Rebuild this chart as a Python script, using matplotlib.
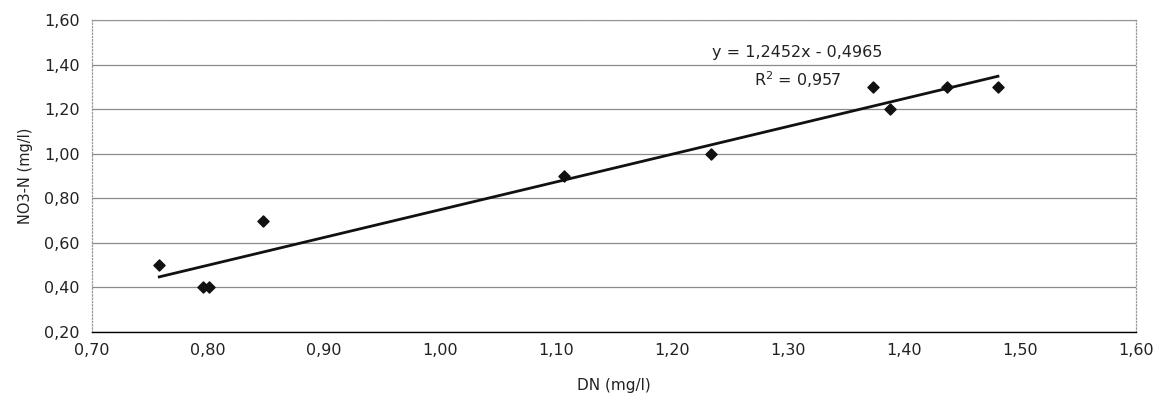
import matplotlib
matplotlib.use("Agg")
import matplotlib.pyplot as plt
import numpy as np
from matplotlib.ticker import FuncFormatter, MultipleLocator

dn = [0.758, 0.796, 0.801, 0.847, 1.107, 1.234, 1.373, 1.388, 1.437, 1.481]
no3n = [0.50, 0.40, 0.40, 0.70, 0.90, 1.00, 1.30, 1.20, 1.30, 1.30]
slope = 1.2452
intercept = -0.4965
eq_text = "y = 1,2452x - 0,4965"
r2_text = "0,957"

plt.rcParams['font.family'] = ['DejaVu Sans']

fig = plt.figure(figsize=(11.61, 4.01), dpi=100)
W, H = 1161, 401
ax = fig.add_axes([92 / W, 1 - 332 / H, (1136 - 92) / W, (332 - 20) / H])

ax.set_xlim(0.70, 1.60)
ax.set_ylim(0.20, 1.60)
ax.xaxis.set_major_locator(MultipleLocator(0.10))
ax.yaxis.set_major_locator(MultipleLocator(0.20))
fmt = FuncFormatter(lambda v, p: f"{v:.2f}".replace('.', ','))
ax.xaxis.set_major_formatter(fmt)
ax.yaxis.set_major_formatter(fmt)

ax.yaxis.grid(True, color='#8a8a8a', linewidth=0.9)
ax.set_axisbelow(True)
for s in ['top', 'right', 'left']:
    ax.spines[s].set_color('#999999')
    ax.spines[s].set_linestyle(':')
    ax.spines[s].set_linewidth(0.9)
ax.spines['bottom'].set_color('black')
ax.spines['bottom'].set_linewidth(1.0)

ax.tick_params(axis='both', length=0, labelsize=11.5, colors='#222222')
ax.tick_params(axis='x', pad=8)
ax.tick_params(axis='y', pad=9)

ax.scatter(dn, no3n, marker='D', s=32, color='#111111', zorder=3)
xs = np.array([min(dn), max(dn)])
ax.plot(xs, slope * xs + intercept, color='#111111', linewidth=2.0, zorder=2)

fig.text(797 / W, 1 - 53 / H, eq_text, ha='center', va='center',
         fontsize=11.5, color='#222222')
fig.text(798 / W, 1 - 80 / H, r"R$^2$ = " + r2_text, ha='center', va='center',
         fontsize=11.5, color='#222222')

ax.set_xlabel("DN (mg/l)", fontsize=11, color='#222222', labelpad=14)
ax.set_ylabel("NO3-N (mg/l)", fontsize=10.5, color='#222222', labelpad=8)

fig.savefig("out.png", dpi=100, facecolor='white')
